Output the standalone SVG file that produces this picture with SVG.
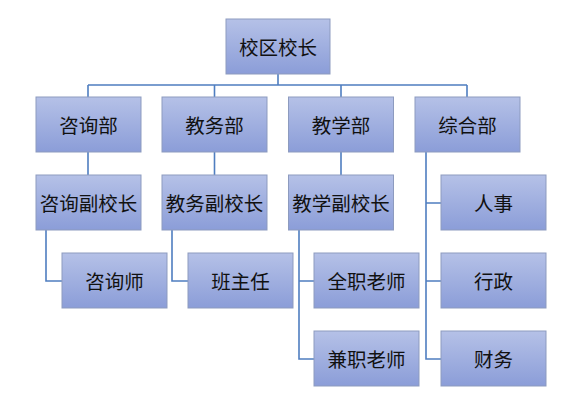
<svg xmlns="http://www.w3.org/2000/svg" width="585" height="400" viewBox="0 0 585 400">
<defs>
<linearGradient id="g" x1="0" y1="0" x2="0" y2="1">
<stop offset="0" stop-color="#b5c1e7"/>
<stop offset="1" stop-color="#8b9dd8"/>
</linearGradient>
<style>
.box rect{fill:url(#g);stroke:#8d9bbf;stroke-width:1}
.box text{font-family:"Noto Sans CJK SC","Liberation Sans",sans-serif;font-size:19.5px;fill:#111111;text-anchor:middle;dominant-baseline:central}
.conn path{fill:none;stroke:#4f7ec0;stroke-width:1.6}
</style>
</defs>
<rect width="585" height="400" fill="#ffffff"/>
<g class="conn">
<path d="M278 74V85M88 85H467M88 85V97M214.5 85V97M341 85V97M467 85V97"/>
<path d="M88 152V175M214.5 152V175M341 152V175"/>
<path d="M46 230V281H62"/>
<path d="M172 230V281H188"/>
<path d="M299 230V359H314M299 281H314"/>
<path d="M426 152V359H441M426 203H441M426 281H441"/>
</g>
<g id="n0" class="box"><rect x="226" y="19" width="104" height="55"/><text x="278" y="46">校区校长</text></g>
<g id="n1" class="box"><rect x="36" y="97" width="105" height="55"/><text x="88.5" y="124">咨询部</text></g>
<g id="n2" class="box"><rect x="162" y="97" width="105" height="55"/><text x="214.5" y="124">教务部</text></g>
<g id="n3" class="box"><rect x="288.5" y="97" width="105" height="55"/><text x="341" y="124">教学部</text></g>
<g id="n4" class="box"><rect x="415" y="97" width="105" height="55"/><text x="467.5" y="124">综合部</text></g>
<g id="n5" class="box"><rect x="36" y="175" width="105" height="55"/><text x="88.5" y="202">咨询副校长</text></g>
<g id="n6" class="box"><rect x="162" y="175" width="105" height="55"/><text x="214.5" y="202">教务副校长</text></g>
<g id="n7" class="box"><rect x="288.5" y="175" width="105" height="55"/><text x="341" y="202">教学副校长</text></g>
<g id="n8" class="box"><rect x="62" y="253" width="105" height="55"/><text x="114.5" y="280">咨询师</text></g>
<g id="n9" class="box"><rect x="188" y="253" width="105" height="55"/><text x="240.5" y="280">班主任</text></g>
<g id="n10" class="box"><rect x="314" y="253" width="105" height="55"/><text x="366.5" y="280">全职老师</text></g>
<g id="n11" class="box"><rect x="314" y="331" width="105" height="55"/><text x="366.5" y="358">兼职老师</text></g>
<g id="n12" class="box"><rect x="441" y="175" width="105" height="55"/><text x="493.5" y="202">人事</text></g>
<g id="n13" class="box"><rect x="441" y="253" width="105" height="55"/><text x="493.5" y="280">行政</text></g>
<g id="n14" class="box"><rect x="441" y="331" width="105" height="55"/><text x="493.5" y="358">财务</text></g>
</svg>
